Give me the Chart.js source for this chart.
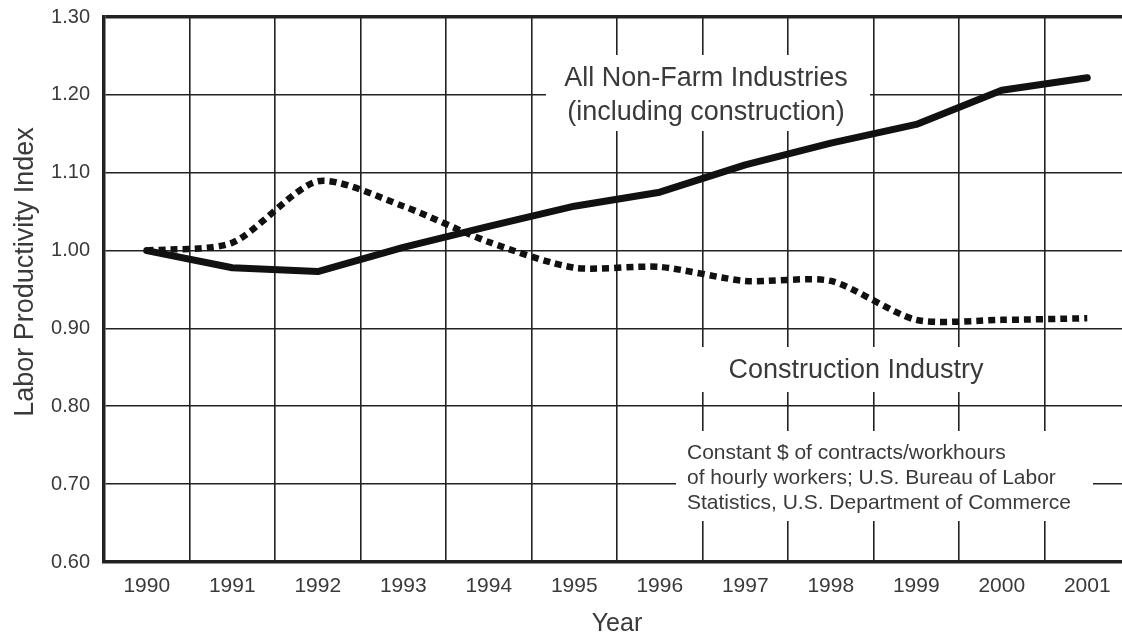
<!DOCTYPE html>
<html>
<head>
<meta charset="utf-8">
<script src="https://cdn.jsdelivr.net/npm/chart.js@4/dist/chart.umd.min.js"></script>
<style>
html,body{margin:0;padding:0;background:#fff;overflow:hidden;width:1122px;height:637px;}
canvas{display:block;}
</style>
</head>
<body>
<canvas id="c" width="1130" height="637" style="width:1130px;height:637px"></canvas>
<script>
const years = ['1990','1991','1992','1993','1994','1995','1996','1997','1998','1999','2000','2001'];
const nonFarm = [1.000, 0.978, 0.973, 1.004, 1.031, 1.057, 1.075, 1.110, 1.138, 1.162, 1.206, 1.222];
const construction = [1.000, 1.010, 1.089, 1.057, 1.011, 0.978, 0.979, 0.961, 0.961, 0.911, 0.911, 0.913];
const yMin = 0.60, yMax = 1.30, yStep = 0.10;
const yTitle = 'Labor Productivity Index';
const xTitle = 'Year';
const noteNonFarm = ['All Non-Farm Industries', '(including construction)'];
const noteConstruction = 'Construction Industry';
const noteSource = ['Constant $ of contracts/workhours', 'of hourly workers; U.S. Bureau of Labor', 'Statistics, U.S. Department of Commerce'];

const FONT = '"Liberation Sans", Arial, Helvetica, sans-serif';
const TXT = '#3a3a3a';

const annotations = {
  id: 'annotations',
  beforeDatasetsDraw(chart) {
    const ctx = chart.ctx;
    ctx.save();
    ctx.fillStyle = '#fff';
    ctx.fillRect(546, 55, 324, 76);
    ctx.fillRect(698, 347, 312, 45);
    ctx.fillRect(676, 431, 417, 90);
    ctx.fillStyle = TXT;
    ctx.font = '27px ' + FONT;
    ctx.textBaseline = 'alphabetic';
    ctx.textAlign = 'center';
    ctx.fillText(noteNonFarm[0], 706, 86);
    ctx.fillText(noteNonFarm[1], 706, 120);
    ctx.fillText(noteConstruction, 856, 378);
    ctx.textAlign = 'left';
    ctx.font = '21px ' + FONT;
    ctx.fillText(noteSource[0], 687, 459);
    ctx.fillText(noteSource[1], 687, 484);
    ctx.fillText(noteSource[2], 687, 509);
    // y axis title
    ctx.translate(33, 272);
    ctx.rotate(-Math.PI / 2);
    ctx.textAlign = 'center';
    ctx.font = '27px ' + FONT;
    ctx.fillText(yTitle, 0, 0);
    ctx.restore();
  }
};

new Chart(document.getElementById('c'), {
  type: 'line',
  data: {
    labels: years,
    datasets: [
      {
        label: 'All Non-Farm Industries (including construction)',
        data: nonFarm,
        borderColor: '#111',
        borderWidth: 7,
        borderCapStyle: 'round',
        borderJoinStyle: 'round',
        pointRadius: 0,
        tension: 0,
        fill: false
      },
      {
        label: 'Construction Industry',
        data: construction,
        borderColor: '#111',
        borderWidth: 6.5,
        borderDash: [7, 5],
        borderCapStyle: 'butt',
        pointRadius: 0,
        tension: 0.25,
        fill: false
      }
    ]
  },
  options: {
    responsive: false,
    animation: false,
    devicePixelRatio: 1,
    layout: { padding: { top: 17, left: 0, right: 0, bottom: 0 } },
    plugins: { legend: { display: false }, tooltip: { enabled: false } },
    scales: {
      x: {
        offset: true,
        grid: { offset: true, color: '#222', lineWidth: 1.6, drawTicks: false },
        border: { display: true, color: '#222', width: 3.5 },
        ticks: { color: TXT, font: { family: FONT, size: 21 }, padding: 12, maxRotation: 0 },
        title: { display: true, text: xTitle, color: TXT, font: { family: FONT, size: 25, lineHeight: 1 }, padding: { top: 0, bottom: 0 } },
        afterFit(scale) { scale.height = 75; scale.paddingLeft = 0; scale.paddingRight = 0; }
      },
      y: {
        min: yMin,
        max: yMax,
        grid: {
          color: '#222',
          lineWidth: (c) => (c.tick && c.tick.value > yMax - 0.001 ? 3.5 : 1.6),
          drawTicks: false
        },
        border: { display: true, color: '#222', width: 3.5 },
        ticks: {
          stepSize: yStep,
          color: TXT,
          font: { family: FONT, size: 20 },
          padding: 14,
          callback: (v) => Number(v).toFixed(2)
        },
        afterFit(scale) { scale.width = 104; scale.paddingTop = 0; scale.paddingBottom = 0; }
      }
    }
  },
  plugins: [annotations]
});
</script>
</body>
</html>
